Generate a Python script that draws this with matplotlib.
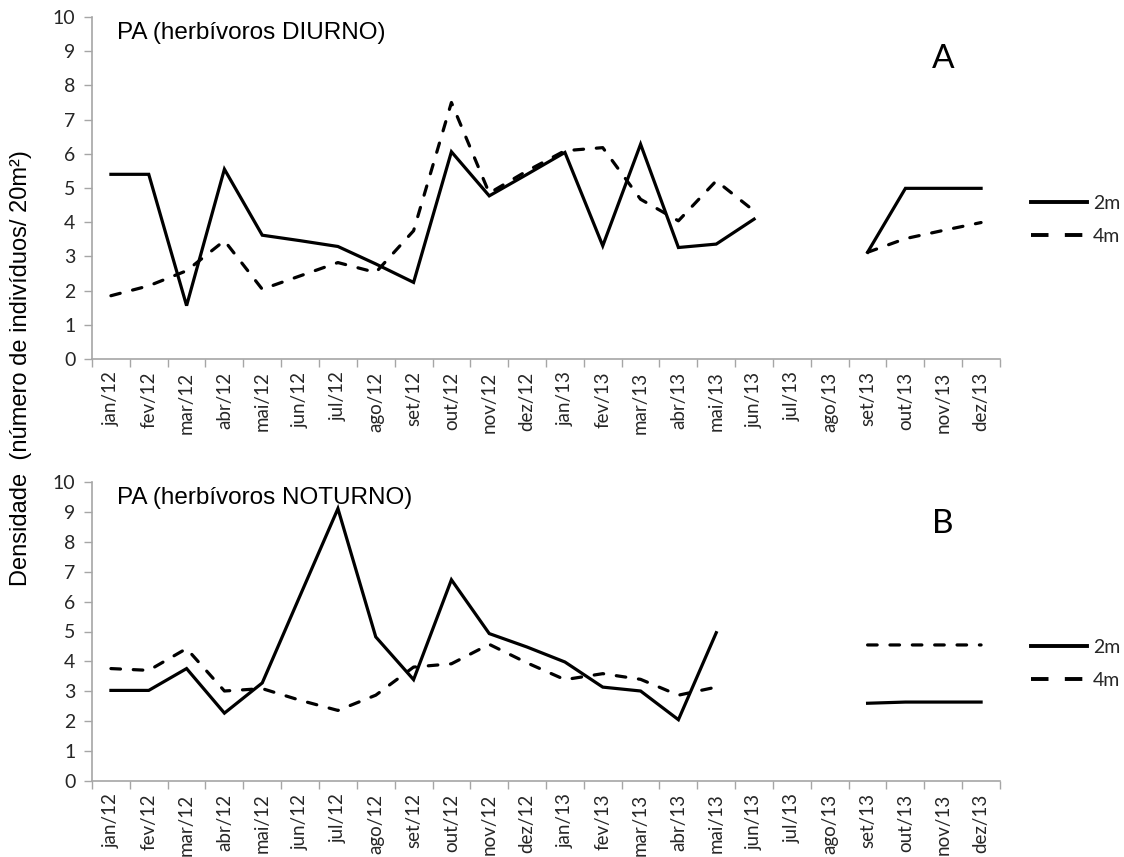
import matplotlib
matplotlib.use("Agg")
import matplotlib.pyplot as plt
from matplotlib.lines import Line2D
import numpy as np

nan = np.nan

meses = ["jan/12", "fev/12", "mar/12", "abr/12", "mai/12", "jun/12",
         "jul/12", "ago/12", "set/12", "out/12", "nov/12", "dez/12",
         "jan/13", "fev/13", "mar/13", "abr/13", "mai/13", "jun/13",
         "jul/13", "ago/13", "set/13", "out/13", "nov/13", "dez/13"]

# herbivoros diurnos (A)
diurno_2m = [5.40, 5.40, 1.56, 5.55, 3.62, 3.46, 3.29, 2.78, 2.24, 6.06, 4.77, 5.40,
             6.04, 3.31, 6.28, 3.26, 3.36, 4.09, nan, nan, 3.12, 4.99, 4.99, 4.99]
diurno_4m = [1.85, 2.14, 2.58, 3.46, 2.04, 2.43, 2.82, 2.53, 3.75, 7.50, 4.85, 5.50,
             6.09, 6.18, 4.67, 4.04, 5.21, 4.33, nan, nan, 3.12, 3.52, 3.76, 3.99]

# herbivoros noturnos (B)
noturno_2m = [3.03, 3.03, 3.76, 2.27, 3.28, 6.20, 9.11, 4.82, 3.39, 6.73, 4.93, 4.48,
              3.98, 3.14, 3.01, 2.05, 4.96, nan, nan, nan, 2.60, 2.64, 2.64, 2.64]
noturno_4m = [3.76, 3.70, 4.43, 3.01, 3.09, 2.70, 2.36, 2.87, 3.81, 3.92, 4.57, 3.95,
              3.39, 3.59, 3.40, 2.87, 3.14, nan, nan, nan, 4.55, 4.55, 4.55, 4.55]

W, H = 1124, 857
fig = plt.figure(figsize=(W / 100, H / 100), dpi=100)

cinza = "#a6a6a6"
tick_font = "Lato"
dash = (0, (3, 4))


def painel(rect, s2, s4, titulo, letra, leg_y):
    l, b, r, t = rect
    ax = fig.add_axes([l / W, 1 - b / H, (r - l) / W, (b - t) / H])
    x = np.arange(len(meses))
    ax.plot(x, s2, color="black", lw=2.3, solid_joinstyle="miter")
    ax.plot(x, s4, color="black", lw=2.3, linestyle=dash, dash_capstyle="round")

    ax.set_xlim(-0.5, len(meses) - 0.5)
    ax.set_ylim(0, 10)
    ax.set_yticks(range(0, 11))
    ax.set_xticks(np.arange(-0.5, len(meses)), minor=False)
    ax.set_xticklabels([])
    ax.set_xticks(x, minor=True)
    ax.set_xticklabels(meses, minor=True, rotation=90)
    ax.tick_params(axis="x", which="major", length=6, width=1, color=cinza)
    ax.tick_params(axis="x", which="minor", length=0, pad=9,
                   labelsize=13.5, labelcolor="#262626")
    ax.tick_params(axis="y", length=6, width=1, color=cinza, pad=6,
                   labelsize=14, labelcolor="#262626")
    for lab in ax.get_xticklabels(minor=True) + ax.get_yticklabels():
        lab.set_fontfamily(tick_font)
    for s in ["top", "right"]:
        ax.spines[s].set_visible(False)
    for s in ["left", "bottom"]:
        ax.spines[s].set_color(cinza)
        ax.spines[s].set_linewidth(1.2)

    fig.text((l + 25) / W, 1 - (t + 16) / H, titulo, fontsize=17.5,
             family="Liberation Sans", va="center", ha="left")
    fig.text(943 / W, 1 - (t + 42) / H, letra, fontsize=24,
             family=tick_font, va="center", ha="center")

    alcas = [Line2D([], [], color="black", lw=2.8),
             Line2D([], [], color="black", lw=2.8, linestyle=(0, (4.5, 4.2)))]
    leg = ax.legend(alcas, ["2m", "4m"], loc="center left",
                    bbox_to_anchor=(1031 / W, 1 - leg_y / H),
                    bbox_transform=fig.transFigure, frameon=False,
                    borderpad=0, borderaxespad=0, handlelength=2.9,
                    handletextpad=0.3, labelspacing=0.85,
                    prop={"family": tick_font, "size": 14})
    for txt in leg.get_texts():
        txt.set_color("#262626")
    return ax


painel((92, 359, 1000, 17), diurno_2m, diurno_4m,
       "PA (herbívoros DIURNO)", "A", 220)
painel((92, 781, 1000, 482), noturno_2m, noturno_4m,
       "PA (herbívoros NOTURNO)", "B", 664)

fig.text(21 / W, 1 - 368 / H, "Densidade  (número de indivíduos/ 20m²)",
         rotation=90, fontsize=17, family="Liberation Sans",
         va="center", ha="center")

fig.savefig("out.png", dpi=100)
